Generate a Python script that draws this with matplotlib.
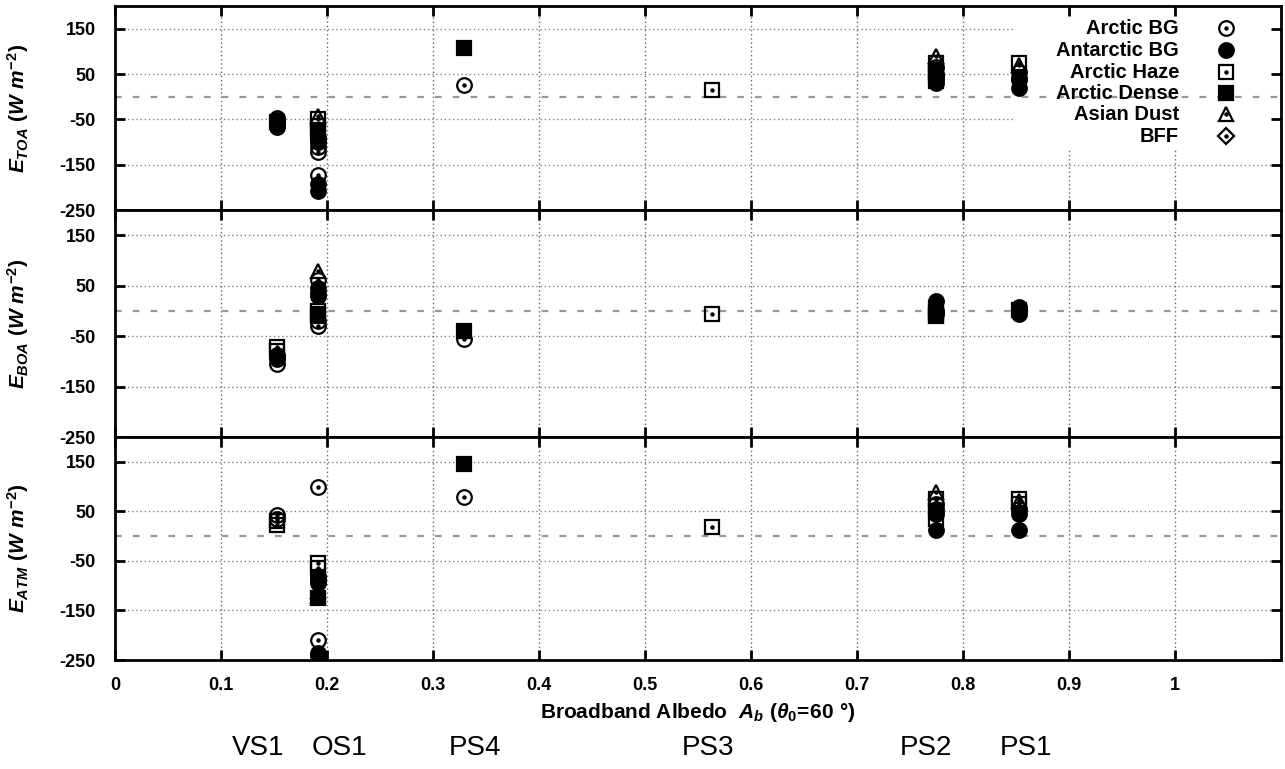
import numpy as np
import matplotlib
matplotlib.use("Agg")
import matplotlib.pyplot as plt
import matplotlib.transforms as mtransforms
from matplotlib.patches import Rectangle

plt.rcParams["font.family"] = ["Liberation Sans", "DejaVu Sans"]
plt.rcParams["font.weight"] = "bold"
plt.rcParams["axes.unicode_minus"] = False
plt.rcParams["mathtext.fontset"] = "custom"
plt.rcParams["mathtext.rm"] = "Liberation Sans:bold"
plt.rcParams["mathtext.it"] = "Liberation Sans:bold:italic"
plt.rcParams["mathtext.bf"] = "Liberation Sans:bold"

# sites and their broadband albedo
sites = ["VS1", "OS1", "PS4", "PS3", "PS2", "PS1"]
albedo = [0.153, 0.192, 0.329, 0.563, 0.775, 0.853]
site_label_x = [0.135, 0.212, 0.34, 0.56, 0.765, 0.86]

types = ["Arctic BG", "Antarctic BG", "Arctic Haze", "Arctic Dense", "Asian Dust", "BFF"]

# one list per site, same order as `sites`
toa_arctic_bg = [[-47, -58, -66], [-98, -110, -122, -172], [25], [], [65, 45], [55]]
toa_antarctic_bg = [[-52, -62], [-88, -100, -192, -208], [], [], [50, 40, 30], [42, 38, 20]]
toa_arctic_haze = [[-55], [-48, -65], [], [15], [75, 60, 35], [75]]
toa_arctic_dense = [[], [-75], [108], [], [55, 45], []]
toa_asian_dust = [[], [-42], [], [], [90], [70]]
toa_bff = [[], [], [], [], [], []]

boa_arctic_bg = [[-95, -105], [62, -20, -30], [-55], [], [0], [5]]
boa_antarctic_bg = [[-88, -92], [45, 35, 30], [], [], [20, -5], [8, 0, -5]]
boa_arctic_haze = [[-72, -80], [0, -10], [], [-5], [5, -3], [2]]
boa_arctic_dense = [[], [-5], [-40], [], [-8, -10], []]
boa_asian_dust = [[], [80], [], [], [], []]
boa_bff = [[], [], [], [], [], []]

atm_arctic_bg = [[42, 35], [100, -80, -90, -210], [80], [], [65], [55]]
atm_antarctic_bg = [[], [-85, -95, -235, -242], [], [], [55, 45, 12], [45, 12]]
atm_arctic_haze = [[30, 22], [-55, -65], [], [18], [75, 60, 35], [75, 65]]
atm_arctic_dense = [[], [-125], [145], [], [50], []]
atm_asian_dust = [[], [-110, -120], [], [], [90], [70]]
atm_bff = [[], [], [], [], [], []]

panels = [
    (r"$\mathit{E_{TOA}\ (W\ m^{-2})}$",
     [toa_arctic_bg, toa_antarctic_bg, toa_arctic_haze, toa_arctic_dense, toa_asian_dust, toa_bff]),
    (r"$\mathit{E_{BOA}\ (W\ m^{-2})}$",
     [boa_arctic_bg, boa_antarctic_bg, boa_arctic_haze, boa_arctic_dense, boa_asian_dust, boa_bff]),
    (r"$\mathit{E_{ATM}\ (W\ m^{-2})}$",
     [atm_arctic_bg, atm_antarctic_bg, atm_arctic_haze, atm_arctic_dense, atm_asian_dust, atm_bff]),
]

# marker, filled, centre dot
styles = [("o", False, True), ("o", True, False), ("s", False, True),
          ("s", True, False), ("^", False, True), ("D", False, True)]
sizes = {"o": 10.5, "s": 9.5, "^": 10, "D": 8}

xticks = np.round(np.arange(0, 1.01, 0.1), 1)
xticklabels = ["0"] + ["%.1f" % v for v in xticks[1:-1]] + ["1"]
yticks = [-250, -150, -50, 50, 150]


def draw_marker(ax, xs, ys, style, **kw):
    m, filled, dot = style
    ax.plot(xs, ys, ls="none", marker=m, ms=sizes[m], mec="black",
            mfc="black" if filled else "none", mew=1.6, zorder=3, **kw)
    if dot:
        ax.plot(xs, ys, ls="none", marker="o", ms=2.2, color="black", zorder=3.1, **kw)


fig = plt.figure(figsize=(12.85, 7.69), dpi=100)
gs = fig.add_gridspec(3, 1, height_ratios=[204, 227, 223], hspace=0,
                      left=0.0895, right=0.9965, top=0.992, bottom=0.1417)

axes = []
for k, (ylabel, series) in enumerate(panels):
    ax = fig.add_subplot(gs[k])
    axes.append(ax)
    ax.set_xlim(0, 1.1)
    ax.set_ylim(-250, 200)
    ax.set_xticks(xticks)
    ax.set_yticks(yticks)
    for x in xticks[1:]:
        ax.axvline(x, color="0.4", lw=1, ls=(0, (1, 2)), zorder=0.5)
    for y in [-150, -50, 50, 150]:
        ax.axhline(y, color="0.5", lw=1, ls=(0, (1, 2)), zorder=0.5)
    ax.axhline(0, color="0.6", lw=1.6, ls=(0, (3, 5)), zorder=1.6)

    for vals, style in zip(series, styles):
        xs, ys = [], []
        for xa, v in zip(albedo, vals):
            xs += [xa] * len(v)
            ys += v
        if xs:
            draw_marker(ax, xs, ys, style)

    ax.tick_params(direction="in", length=7, width=2, top=True, right=True,
                   labelsize=13, pad=14)
    ax.tick_params(axis="x", pad=12)
    for s in ax.spines.values():
        s.set_linewidth(2)
    ax.set_ylabel(ylabel, fontsize=15)
    ax.yaxis.set_label_coords(-0.072, 0.5)
    if k < 2:
        ax.tick_params(labelbottom=False)
    else:
        ax.set_xticklabels(xticklabels)

# legend box drawn by hand (labels right aligned, markers on the right)
ax = axes[0]
ax.add_patch(Rectangle((0.771, 0.304), 0.229, 0.696, transform=ax.transAxes,
                       facecolor="white", edgecolor="none", zorder=1.2))
row_y = [0.892, 0.784, 0.676, 0.574, 0.471, 0.363]
for name, style, y in zip(types, styles, row_y):
    ax.text(0.913, y, name, transform=ax.transAxes, ha="right", va="center",
            fontsize=14.5, fontweight="bold", zorder=4)
    draw_marker(ax, [0.953], [y], style, transform=ax.transAxes, clip_on=False)

axes[2].set_xlabel(r"Broadband Albedo  $\mathit{A_b\ (\theta_0\!=\!60\ °)}$", fontsize=15,
                   fontweight="bold", labelpad=5)

trans = mtransforms.blended_transform_factory(axes[2].transData, fig.transFigure)
for name, x in zip(sites, site_label_x):
    fig.text(x, 0.027, name, transform=trans, ha="center", va="center",
             fontsize=20, fontweight="normal")

fig.savefig("out.png", dpi=100)
